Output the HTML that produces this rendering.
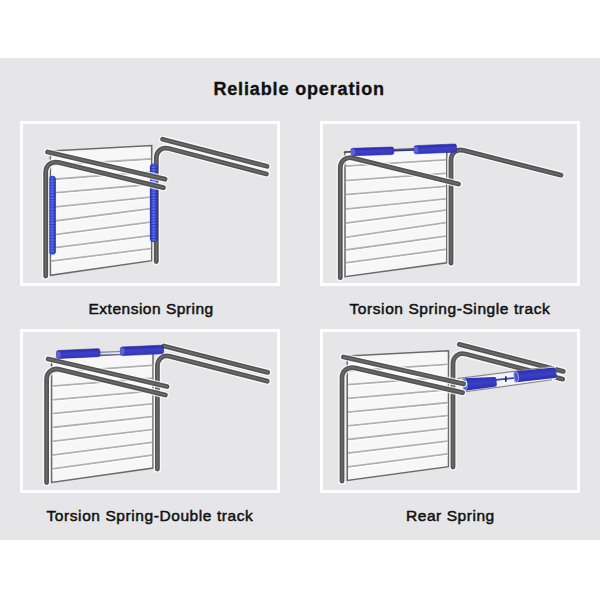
<!DOCTYPE html>
<html><head><meta charset="utf-8">
<style>
html,body{margin:0;padding:0;background:#fff;}
body{width:600px;height:600px;position:relative;overflow:hidden;font-family:"Liberation Sans",sans-serif;}
#band{position:absolute;left:0;top:58px;width:600px;height:482px;background:#e6e6e8;}
.pnl{position:absolute;width:254px;border:3px solid #fff;box-sizing:content-box;}
#p1{left:20px;top:121px;height:159px;}
#p2{left:320px;top:121px;height:159px;}
#p3{left:20px;top:329px;height:158px;}
#p4{left:320px;top:329px;height:158px;}
.lbl{position:absolute;font-weight:normal;font-size:15.5px;color:#111;-webkit-text-stroke:0.5px #111;white-space:nowrap;line-height:18px;}
#title{position:absolute;left:213.4px;top:78px;-webkit-text-stroke:0.35px #111;font-weight:bold;font-size:18px;letter-spacing:0.86px;color:#111;white-space:nowrap;line-height:22px;}
svg{position:absolute;left:0;top:0;}
</style></head>
<body>
<div id="band"></div>
<div class="pnl" id="p1"></div>
<div class="pnl" id="p2"></div>
<div class="pnl" id="p3"></div>
<div class="pnl" id="p4"></div>
<div id="title">Reliable operation</div>
<div class="lbl" style="left:88.5px;top:300px;letter-spacing:0.5px">Extension Spring</div>
<div class="lbl" style="left:349.5px;top:300px;letter-spacing:0.58px">Torsion Spring-Single track</div>
<div class="lbl" style="left:46.5px;top:507px;letter-spacing:0.58px">Torsion Spring-Double track</div>
<div class="lbl" style="left:406px;top:507px;letter-spacing:0.55px">Rear Spring</div>
<svg width="600" height="600" viewBox="0 0 600 600">
<defs>
<linearGradient id="vsg" x1="0" y1="0" x2="1" y2="0">
 <stop offset="0" stop-color="#2631aa"/><stop offset="0.2" stop-color="#3848d2"/><stop offset="0.5" stop-color="#5062e4"/><stop offset="0.8" stop-color="#3848d2"/><stop offset="1" stop-color="#252ea2"/>
</linearGradient>
<pattern id="coil" x="0" y="0" width="10" height="2.8" patternUnits="userSpaceOnUse">
 <rect x="0" y="0" width="10" height="1.1" fill="#1d2590"/>
</pattern>
<pattern id="coilhi" x="0" y="0" width="10" height="2.8" patternUnits="userSpaceOnUse">
 <rect x="0" y="1.5" width="10" height="1.0" fill="#7080f0"/>
</pattern>
<linearGradient id="capg" x1="0" y1="0" x2="0" y2="1">
 <stop offset="0" stop-color="#2a2aa6"/><stop offset="0.45" stop-color="#3e40c8"/><stop offset="1" stop-color="#3436ba"/>
</linearGradient>
<linearGradient id="capr" x1="0" y1="0" x2="0" y2="1">
 <stop offset="0" stop-color="#2b2fb0"/><stop offset="0.5" stop-color="#3a40c8"/><stop offset="1" stop-color="#2a2ea8"/>
</linearGradient>
</defs>
<polygon points="50.4,151.0 151.7,145.5 151.7,260.7 50.4,275.3" fill="#f7f7f7" stroke="#6a6a6a" stroke-width="1.5" stroke-linejoin="miter"/>
<line x1="51.20" y1="165.20" x2="150.90" y2="159.00" stroke="#b0b0b0" stroke-width="1.8"/>
<line x1="51.20" y1="166.80" x2="150.90" y2="160.60" stroke="#ffffff" stroke-width="1"/>
<line x1="51.20" y1="179.50" x2="150.90" y2="171.80" stroke="#b0b0b0" stroke-width="1.8"/>
<line x1="51.20" y1="181.10" x2="150.90" y2="173.40" stroke="#ffffff" stroke-width="1"/>
<line x1="51.20" y1="193.10" x2="150.90" y2="184.50" stroke="#b0b0b0" stroke-width="1.8"/>
<line x1="51.20" y1="194.70" x2="150.90" y2="186.10" stroke="#ffffff" stroke-width="1"/>
<line x1="51.20" y1="207.40" x2="150.90" y2="197.10" stroke="#b0b0b0" stroke-width="1.8"/>
<line x1="51.20" y1="209.00" x2="150.90" y2="198.70" stroke="#ffffff" stroke-width="1"/>
<line x1="51.20" y1="221.50" x2="150.90" y2="208.70" stroke="#b0b0b0" stroke-width="1.8"/>
<line x1="51.20" y1="223.10" x2="150.90" y2="210.30" stroke="#ffffff" stroke-width="1"/>
<line x1="51.20" y1="235.10" x2="150.90" y2="222.10" stroke="#b0b0b0" stroke-width="1.8"/>
<line x1="51.20" y1="236.70" x2="150.90" y2="223.70" stroke="#ffffff" stroke-width="1"/>
<line x1="51.20" y1="248.20" x2="150.90" y2="235.60" stroke="#b0b0b0" stroke-width="1.8"/>
<line x1="51.20" y1="249.80" x2="150.90" y2="237.20" stroke="#ffffff" stroke-width="1"/>
<line x1="51.20" y1="261.20" x2="150.90" y2="248.60" stroke="#b0b0b0" stroke-width="1.8"/>
<line x1="51.20" y1="262.80" x2="150.90" y2="250.20" stroke="#ffffff" stroke-width="1"/>
<path d="M156.3,261.6 L156.30,158.20 C156.30,151.05 161.96,146.68 168.88,148.49 L266.4,174.0" fill="none" stroke="#ffffff" stroke-opacity="0.75" stroke-width="7.40" stroke-linecap="round" stroke-linejoin="round"/>
<path d="M156.3,261.6 L156.30,158.20 C156.30,151.05 161.96,146.68 168.88,148.49 L266.4,174.0" fill="none" stroke="#545454" stroke-width="4.8" stroke-linecap="round" stroke-linejoin="round"/>
<path d="M156.3,261.6 L156.30,158.20 C156.30,151.05 161.96,146.68 168.88,148.49 L266.4,174.0" fill="none" stroke="#6c6c6c" stroke-width="1.44" stroke-linecap="round" stroke-linejoin="round"/>
<rect x="48.80" y="175.8" width="7.0" height="79.0" rx="3.50" ry="3.50" fill="url(#vsg)"/>
<rect x="48.80" y="175.8" width="7.0" height="79.0" rx="3.50" ry="3.50" fill="url(#coil)" opacity="0.42"/>
<rect x="50.76" y="177.8" width="2.52" height="75.0" fill="url(#coilhi)" opacity="0.6"/>
<rect x="149.90" y="163.4" width="7.8" height="78.79999999999998" rx="3.90" ry="3.90" fill="url(#vsg)"/>
<rect x="149.90" y="163.4" width="7.8" height="78.79999999999998" rx="3.90" ry="3.90" fill="url(#coil)" opacity="0.42"/>
<rect x="152.08" y="165.4" width="2.81" height="74.79999999999998" fill="url(#coilhi)" opacity="0.6"/>
<path d="M45.7,276.0 L45.70,172.40 C45.70,165.25 51.39,160.76 58.34,162.43 L163.4,187.6" fill="none" stroke="#ffffff" stroke-opacity="0.75" stroke-width="7.40" stroke-linecap="round" stroke-linejoin="round"/>
<path d="M45.7,276.0 L45.70,172.40 C45.70,165.25 51.39,160.76 58.34,162.43 L163.4,187.6" fill="none" stroke="#545454" stroke-width="4.8" stroke-linecap="round" stroke-linejoin="round"/>
<path d="M45.7,276.0 L45.70,172.40 C45.70,165.25 51.39,160.76 58.34,162.43 L163.4,187.6" fill="none" stroke="#6c6c6c" stroke-width="1.44" stroke-linecap="round" stroke-linejoin="round"/>
<path d="M47.6,152.0 L165.0,179.2" fill="none" stroke="#ffffff" stroke-opacity="0.75" stroke-width="7.40" stroke-linecap="round" stroke-linejoin="round"/>
<path d="M47.6,152.0 L165.0,179.2" fill="none" stroke="#545454" stroke-width="4.8" stroke-linecap="round" stroke-linejoin="round"/>
<path d="M47.6,152.0 L165.0,179.2" fill="none" stroke="#6c6c6c" stroke-width="1.44" stroke-linecap="round" stroke-linejoin="round"/>
<path d="M162.6,139.2 L267.0,166.3" fill="none" stroke="#ffffff" stroke-opacity="0.75" stroke-width="7.40" stroke-linecap="round" stroke-linejoin="round"/>
<path d="M162.6,139.2 L267.0,166.3" fill="none" stroke="#545454" stroke-width="4.8" stroke-linecap="round" stroke-linejoin="round"/>
<path d="M162.6,139.2 L267.0,166.3" fill="none" stroke="#6c6c6c" stroke-width="1.44" stroke-linecap="round" stroke-linejoin="round"/>
<polygon points="345.0,152.0 446.8,147.0 446.8,262.75 345.0,276.7" fill="#f7f7f7" stroke="#6a6a6a" stroke-width="1.5" stroke-linejoin="miter"/>
<line x1="345.80" y1="166.10" x2="446.00" y2="159.80" stroke="#b0b0b0" stroke-width="1.8"/>
<line x1="345.80" y1="167.70" x2="446.00" y2="161.40" stroke="#ffffff" stroke-width="1"/>
<line x1="345.80" y1="180.60" x2="446.00" y2="173.30" stroke="#b0b0b0" stroke-width="1.8"/>
<line x1="345.80" y1="182.20" x2="446.00" y2="174.90" stroke="#ffffff" stroke-width="1"/>
<line x1="345.80" y1="194.60" x2="446.00" y2="186.30" stroke="#b0b0b0" stroke-width="1.8"/>
<line x1="345.80" y1="196.20" x2="446.00" y2="187.90" stroke="#ffffff" stroke-width="1"/>
<line x1="345.80" y1="209.10" x2="446.00" y2="198.80" stroke="#b0b0b0" stroke-width="1.8"/>
<line x1="345.80" y1="210.70" x2="446.00" y2="200.40" stroke="#ffffff" stroke-width="1"/>
<line x1="345.80" y1="223.20" x2="446.00" y2="210.20" stroke="#b0b0b0" stroke-width="1.8"/>
<line x1="345.80" y1="224.80" x2="446.00" y2="211.80" stroke="#ffffff" stroke-width="1"/>
<line x1="345.80" y1="237.30" x2="446.00" y2="222.60" stroke="#b0b0b0" stroke-width="1.8"/>
<line x1="345.80" y1="238.90" x2="446.00" y2="224.20" stroke="#ffffff" stroke-width="1"/>
<line x1="345.80" y1="250.00" x2="446.00" y2="236.20" stroke="#b0b0b0" stroke-width="1.8"/>
<line x1="345.80" y1="251.60" x2="446.00" y2="237.80" stroke="#ffffff" stroke-width="1"/>
<line x1="345.80" y1="262.80" x2="446.00" y2="249.40" stroke="#b0b0b0" stroke-width="1.8"/>
<line x1="345.80" y1="264.40" x2="446.00" y2="251.00" stroke="#ffffff" stroke-width="1"/>
<path d="M451.0,263.2 L451.00,160.20 C451.00,153.05 456.67,148.64 463.60,150.40 L561.0,175.1" fill="none" stroke="#ffffff" stroke-opacity="0.75" stroke-width="7.40" stroke-linecap="round" stroke-linejoin="round"/>
<path d="M451.0,263.2 L451.00,160.20 C451.00,153.05 456.67,148.64 463.60,150.40 L561.0,175.1" fill="none" stroke="#545454" stroke-width="4.8" stroke-linecap="round" stroke-linejoin="round"/>
<path d="M451.0,263.2 L451.00,160.20 C451.00,153.05 456.67,148.64 463.60,150.40 L561.0,175.1" fill="none" stroke="#6c6c6c" stroke-width="1.44" stroke-linecap="round" stroke-linejoin="round"/>
<path d="M340.3,277.7 L340.30,168.00 C340.30,160.85 345.98,156.39 352.93,158.10 L458.5,184.0" fill="none" stroke="#ffffff" stroke-opacity="0.75" stroke-width="7.40" stroke-linecap="round" stroke-linejoin="round"/>
<path d="M340.3,277.7 L340.30,168.00 C340.30,160.85 345.98,156.39 352.93,158.10 L458.5,184.0" fill="none" stroke="#545454" stroke-width="4.8" stroke-linecap="round" stroke-linejoin="round"/>
<path d="M340.3,277.7 L340.30,168.00 C340.30,160.85 345.98,156.39 352.93,158.10 L458.5,184.0" fill="none" stroke="#6c6c6c" stroke-width="1.44" stroke-linecap="round" stroke-linejoin="round"/>
<line x1="344.5" y1="152.3" x2="352" y2="151.6" stroke="#555" stroke-width="1.6" stroke-linecap="round"/>
<line x1="393" y1="150.6" x2="415" y2="149.9" stroke="#2f3290" stroke-width="1.6"/>
<g transform="translate(351.0,152.1) rotate(-1.873)"><rect x="0" y="-3.7" width="42.82" height="7.4" rx="1.8" ry="2.22" fill="url(#capg)" stroke="#2b2b9a" stroke-width="0.6"/><ellipse cx="2.0" cy="0" rx="1.6" ry="2.70" fill="#5563e0" stroke="#7f8af0" stroke-width="0.6" opacity="0.9"/></g>
<g transform="translate(414.0,149.8) rotate(-2.420)"><rect x="0" y="-4.1" width="42.64" height="8.2" rx="1.8" ry="2.46" fill="url(#capg)" stroke="#2b2b9a" stroke-width="0.6"/><ellipse cx="2.0" cy="0" rx="1.6" ry="3.10" fill="#5563e0" stroke="#7f8af0" stroke-width="0.6" opacity="0.9"/></g>
<polygon points="51.6,358.0 153.0,352.8 153.0,468.0 51.6,482.4" fill="#f7f7f7" stroke="#6a6a6a" stroke-width="1.5" stroke-linejoin="miter"/>
<line x1="52.40" y1="372.30" x2="152.20" y2="365.42" stroke="#b0b0b0" stroke-width="1.8"/>
<line x1="52.40" y1="373.90" x2="152.20" y2="367.02" stroke="#ffffff" stroke-width="1"/>
<line x1="52.40" y1="386.10" x2="152.20" y2="378.24" stroke="#b0b0b0" stroke-width="1.8"/>
<line x1="52.40" y1="387.70" x2="152.20" y2="379.84" stroke="#ffffff" stroke-width="1"/>
<line x1="52.40" y1="399.90" x2="152.20" y2="391.07" stroke="#b0b0b0" stroke-width="1.8"/>
<line x1="52.40" y1="401.50" x2="152.20" y2="392.67" stroke="#ffffff" stroke-width="1"/>
<line x1="52.40" y1="413.70" x2="152.20" y2="403.89" stroke="#b0b0b0" stroke-width="1.8"/>
<line x1="52.40" y1="415.30" x2="152.20" y2="405.49" stroke="#ffffff" stroke-width="1"/>
<line x1="52.40" y1="427.50" x2="152.20" y2="416.71" stroke="#b0b0b0" stroke-width="1.8"/>
<line x1="52.40" y1="429.10" x2="152.20" y2="418.31" stroke="#ffffff" stroke-width="1"/>
<line x1="52.40" y1="441.30" x2="152.20" y2="429.53" stroke="#b0b0b0" stroke-width="1.8"/>
<line x1="52.40" y1="442.90" x2="152.20" y2="431.13" stroke="#ffffff" stroke-width="1"/>
<line x1="52.40" y1="455.10" x2="152.20" y2="442.36" stroke="#b0b0b0" stroke-width="1.8"/>
<line x1="52.40" y1="456.70" x2="152.20" y2="443.96" stroke="#ffffff" stroke-width="1"/>
<line x1="52.40" y1="468.90" x2="152.20" y2="455.18" stroke="#b0b0b0" stroke-width="1.8"/>
<line x1="52.40" y1="470.50" x2="152.20" y2="456.78" stroke="#ffffff" stroke-width="1"/>
<path d="M157.4,469.0 L157.40,366.10 C157.40,358.95 163.07,354.55 169.99,356.32 L267.2,381.2" fill="none" stroke="#ffffff" stroke-opacity="0.75" stroke-width="7.40" stroke-linecap="round" stroke-linejoin="round"/>
<path d="M157.4,469.0 L157.40,366.10 C157.40,358.95 163.07,354.55 169.99,356.32 L267.2,381.2" fill="none" stroke="#545454" stroke-width="4.8" stroke-linecap="round" stroke-linejoin="round"/>
<path d="M157.4,469.0 L157.40,366.10 C157.40,358.95 163.07,354.55 169.99,356.32 L267.2,381.2" fill="none" stroke="#6c6c6c" stroke-width="1.44" stroke-linecap="round" stroke-linejoin="round"/>
<line x1="51.6" y1="361" x2="51.6" y2="368" stroke="#555" stroke-width="1"/>
<path d="M46.6,482.5 L46.60,379.30 C46.60,372.15 52.29,367.67 59.24,369.35 L165.4,395.0" fill="none" stroke="#ffffff" stroke-opacity="0.75" stroke-width="7.40" stroke-linecap="round" stroke-linejoin="round"/>
<path d="M46.6,482.5 L46.60,379.30 C46.60,372.15 52.29,367.67 59.24,369.35 L165.4,395.0" fill="none" stroke="#545454" stroke-width="4.8" stroke-linecap="round" stroke-linejoin="round"/>
<path d="M46.6,482.5 L46.60,379.30 C46.60,372.15 52.29,367.67 59.24,369.35 L165.4,395.0" fill="none" stroke="#6c6c6c" stroke-width="1.44" stroke-linecap="round" stroke-linejoin="round"/>
<path d="M48.2,359.0 L167.0,386.5" fill="none" stroke="#ffffff" stroke-opacity="0.75" stroke-width="7.40" stroke-linecap="round" stroke-linejoin="round"/>
<path d="M48.2,359.0 L167.0,386.5" fill="none" stroke="#545454" stroke-width="4.8" stroke-linecap="round" stroke-linejoin="round"/>
<path d="M48.2,359.0 L167.0,386.5" fill="none" stroke="#6c6c6c" stroke-width="1.44" stroke-linecap="round" stroke-linejoin="round"/>
<path d="M163.8,346.0 L267.6,372.4" fill="none" stroke="#ffffff" stroke-opacity="0.75" stroke-width="7.40" stroke-linecap="round" stroke-linejoin="round"/>
<path d="M163.8,346.0 L267.6,372.4" fill="none" stroke="#545454" stroke-width="4.8" stroke-linecap="round" stroke-linejoin="round"/>
<path d="M163.8,346.0 L267.6,372.4" fill="none" stroke="#6c6c6c" stroke-width="1.44" stroke-linecap="round" stroke-linejoin="round"/>
<line x1="99" y1="353.6" x2="121" y2="353.0" stroke="#5a5f85" stroke-width="3.6"/>
<line x1="99" y1="353.6" x2="121" y2="353.0" stroke="#e2e5f5" stroke-width="1.8"/>
<g transform="translate(56.5,354.6) rotate(-2.632)"><rect x="0" y="-4.0" width="43.55" height="8.0" rx="1.8" ry="2.40" fill="url(#capg)" stroke="#2b2b9a" stroke-width="0.6"/><ellipse cx="2.0" cy="0" rx="1.6" ry="3.00" fill="#5563e0" stroke="#7f8af0" stroke-width="0.6" opacity="0.9"/></g>
<g transform="translate(120.4,351.4) rotate(-2.651)"><rect x="0" y="-4.3" width="43.25" height="8.6" rx="1.8" ry="2.58" fill="url(#capg)" stroke="#2b2b9a" stroke-width="0.6"/><ellipse cx="2.0" cy="0" rx="1.6" ry="3.30" fill="#5563e0" stroke="#7f8af0" stroke-width="0.6" opacity="0.9"/></g>
<polygon points="347.25,356.0 448.5,350.75 448.5,466.7 347.25,480.4" fill="#f7f7f7" stroke="#6a6a6a" stroke-width="1.5" stroke-linejoin="miter"/>
<line x1="348.05" y1="371.00" x2="447.70" y2="364.39" stroke="#b0b0b0" stroke-width="1.8"/>
<line x1="348.05" y1="372.60" x2="447.70" y2="365.99" stroke="#ffffff" stroke-width="1"/>
<line x1="348.05" y1="384.70" x2="447.70" y2="377.18" stroke="#b0b0b0" stroke-width="1.8"/>
<line x1="348.05" y1="386.30" x2="447.70" y2="378.78" stroke="#ffffff" stroke-width="1"/>
<line x1="348.05" y1="398.40" x2="447.70" y2="389.97" stroke="#b0b0b0" stroke-width="1.8"/>
<line x1="348.05" y1="400.00" x2="447.70" y2="391.57" stroke="#ffffff" stroke-width="1"/>
<line x1="348.05" y1="412.10" x2="447.70" y2="402.76" stroke="#b0b0b0" stroke-width="1.8"/>
<line x1="348.05" y1="413.70" x2="447.70" y2="404.36" stroke="#ffffff" stroke-width="1"/>
<line x1="348.05" y1="425.80" x2="447.70" y2="415.54" stroke="#b0b0b0" stroke-width="1.8"/>
<line x1="348.05" y1="427.40" x2="447.70" y2="417.14" stroke="#ffffff" stroke-width="1"/>
<line x1="348.05" y1="439.50" x2="447.70" y2="428.33" stroke="#b0b0b0" stroke-width="1.8"/>
<line x1="348.05" y1="441.10" x2="447.70" y2="429.93" stroke="#ffffff" stroke-width="1"/>
<line x1="348.05" y1="453.20" x2="447.70" y2="441.12" stroke="#b0b0b0" stroke-width="1.8"/>
<line x1="348.05" y1="454.80" x2="447.70" y2="442.72" stroke="#ffffff" stroke-width="1"/>
<line x1="348.05" y1="466.90" x2="447.70" y2="453.91" stroke="#b0b0b0" stroke-width="1.8"/>
<line x1="348.05" y1="468.50" x2="447.70" y2="455.51" stroke="#ffffff" stroke-width="1"/>
<path d="M453.0,467.0 L453.00,363.80 C453.00,356.65 458.66,352.26 465.59,354.05 L562.6,379.1" fill="none" stroke="#ffffff" stroke-opacity="0.75" stroke-width="7.40" stroke-linecap="round" stroke-linejoin="round"/>
<path d="M453.0,467.0 L453.00,363.80 C453.00,356.65 458.66,352.26 465.59,354.05 L562.6,379.1" fill="none" stroke="#545454" stroke-width="4.8" stroke-linecap="round" stroke-linejoin="round"/>
<path d="M453.0,467.0 L453.00,363.80 C453.00,356.65 458.66,352.26 465.59,354.05 L562.6,379.1" fill="none" stroke="#6c6c6c" stroke-width="1.44" stroke-linecap="round" stroke-linejoin="round"/>
<path d="M459.3,344.4 L563.2,371.4" fill="none" stroke="#ffffff" stroke-opacity="0.75" stroke-width="7.40" stroke-linecap="round" stroke-linejoin="round"/>
<path d="M459.3,344.4 L563.2,371.4" fill="none" stroke="#545454" stroke-width="4.8" stroke-linecap="round" stroke-linejoin="round"/>
<path d="M459.3,344.4 L563.2,371.4" fill="none" stroke="#6c6c6c" stroke-width="1.44" stroke-linecap="round" stroke-linejoin="round"/>
<polygon points="457,378.6 556,366.0 556,379.2 462,392.2" fill="#f3f3f8"/>
<line x1="457" y1="378.6" x2="552" y2="366.5" stroke="#8a8a8a" stroke-width="1.1"/>
<line x1="462" y1="392.2" x2="552" y2="379.8" stroke="#8a8a8a" stroke-width="1.1"/>
<line x1="496" y1="379.8" x2="515" y2="377.8" stroke="#3a44b0" stroke-width="1.7"/>
<line x1="505.8" y1="376.3" x2="505.8" y2="381.8" stroke="#1a1a3a" stroke-width="1.5"/>
<g transform="translate(462.6,384.6) rotate(-5.042)"><path d="M2.0,-6.30 L32.13,-4.90 Q34.13,-4.90 34.13,-2.90 L34.13,2.90 Q34.13,4.90 32.13,4.90 L2.0,6.30 Q0,6.30 0,4.30 L0,-4.30 Q0,-6.30 2.0,-6.30 Z" fill="url(#capr)"/><ellipse cx="2.2" cy="0" rx="2.2" ry="5.70" fill="#4450d0" stroke="#b8bef2" stroke-width="0.8"/></g>
<g transform="translate(514.0,377.0) rotate(-5.925)"><path d="M2.0,-5.60 L40.63,-5.30 Q42.63,-5.30 42.63,-3.30 L42.63,3.30 Q42.63,5.30 40.63,5.30 L2.0,5.60 Q0,5.60 0,3.60 L0,-3.60 Q0,-5.60 2.0,-5.60 Z" fill="url(#capr)"/><ellipse cx="2.2" cy="0" rx="2.2" ry="5.00" fill="#4450d0" stroke="#b8bef2" stroke-width="0.8"/></g>
<path d="M342.0,481.0 L342.00,378.00 C342.00,370.85 347.70,366.31 354.67,367.90 L462.5,392.6" fill="none" stroke="#ffffff" stroke-opacity="0.75" stroke-width="7.40" stroke-linecap="round" stroke-linejoin="round"/>
<path d="M342.0,481.0 L342.00,378.00 C342.00,370.85 347.70,366.31 354.67,367.90 L462.5,392.6" fill="none" stroke="#545454" stroke-width="4.8" stroke-linecap="round" stroke-linejoin="round"/>
<path d="M342.0,481.0 L342.00,378.00 C342.00,370.85 347.70,366.31 354.67,367.90 L462.5,392.6" fill="none" stroke="#6c6c6c" stroke-width="1.44" stroke-linecap="round" stroke-linejoin="round"/>
<path d="M343.5,357.0 L463.5,383.8" fill="none" stroke="#ffffff" stroke-opacity="0.75" stroke-width="7.40" stroke-linecap="round" stroke-linejoin="round"/>
<path d="M343.5,357.0 L463.5,383.8" fill="none" stroke="#545454" stroke-width="4.8" stroke-linecap="round" stroke-linejoin="round"/>
<path d="M343.5,357.0 L463.5,383.8" fill="none" stroke="#6c6c6c" stroke-width="1.44" stroke-linecap="round" stroke-linejoin="round"/>
</svg>
</body></html>
